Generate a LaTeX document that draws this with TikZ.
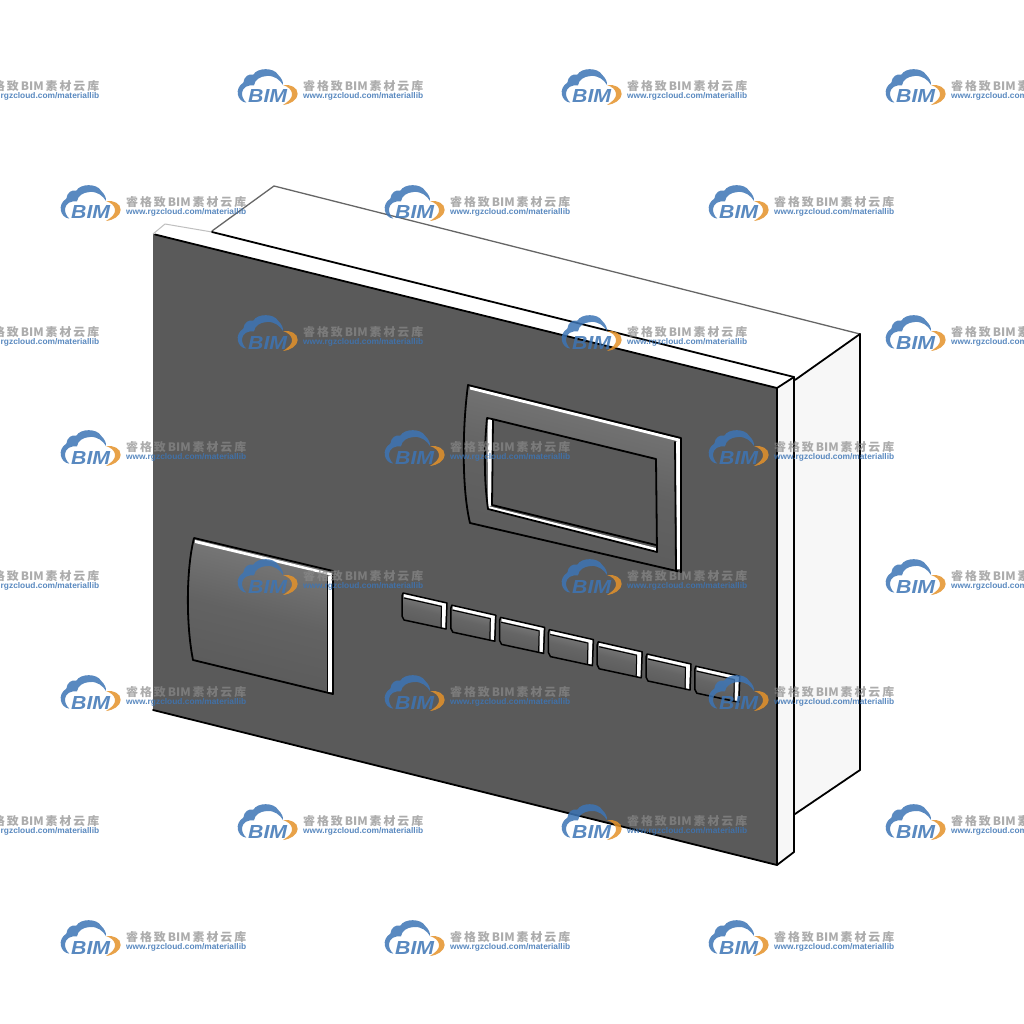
\documentclass[tikz,border=0pt]{standalone}
\usepackage{fontspec}
\newfontfamily\cjk{Noto Sans CJK SC}
\newfontfamily\lat{Liberation Sans}
\usetikzlibrary{calc}
\definecolor{plate}{HTML}{5A5A5A}
\definecolor{sidec}{HTML}{F7F7F7}
\definecolor{wmblue}{HTML}{3D75B5}
\definecolor{wmorange}{HTML}{E4922A}
\definecolor{wmgrey}{HTML}{8A8A8A}
\definecolor{faceA}{HTML}{7A7A7A}
\definecolor{faceB}{HTML}{7C7C7C}
\definecolor{faceC}{HTML}{868686}
\tikzset{
  edge/.style={draw=black,line width=1.8pt,line cap=round,line join=round},
  softedge/.style={draw=black!60,line width=1.3pt,line cap=round},
  bevel/.style={fill=white,draw=none},
  faceshade/.style={top color=#1,bottom color=plate,middle color=plate!75!#1,shading angle=-14},
  wmtext/.style={inner sep=0pt,anchor=west},
}
\newcommand{\wmark}[2]{%
\begin{scope}[shift={(#1,#2)}]
 \begin{scope}[x=.3333pt,y=-.3333pt,xshift=-2pt,opacity=.85]
  \fill[wmblue] (31,98)
     .. controls (3,95) and (-6,55) .. (22,38)
     .. controls (24,20) and (38,10) .. (52,14)
     .. controls (64,-8) and (114,-8) .. (126,14)
     .. controls (136,24) and (142,34) .. (141,45)
     .. controls (132,30) and (116,16) .. (92,18)
     .. controls (72,19) and (56,30) .. (54,46)
     .. controls (36,44) and (20,52) .. (18,68)
     .. controls (17,78) and (22,90) .. (31,98) -- cycle;
  \fill[wmorange] (141,45)
     .. controls (162,42) and (186,52) .. (185,72)
     .. controls (184,90) and (164,102) .. (141,105)
     .. controls (158,94) and (170,84) .. (168,70)
     .. controls (166,58) and (156,50) .. (141,45) -- cycle;
 \end{scope}
  \node[wmtext,text=wmblue,opacity=.85] at (10,26.5) {\resizebox{39pt}{13pt}{\lat\bfseries\itshape BIM}};
  \node[wmtext,text=wmgrey,opacity=.7] at (65,16) {\resizebox{120pt}{10pt}{\cjk\bfseries 睿\,格\,致\,BIM\,素\,材\,云\,库}};
  \node[wmtext,text=wmblue,opacity=.85] at (65,26) {\resizebox{120pt}{6pt}{\lat\bfseries www.rgzcloud.com/materiallib}};
\end{scope}}
\begin{document}
\begin{tikzpicture}[x=1pt,y=-1pt]
\fill[white] (0,0) rectangle (1024,1024);
\clip (0,0) rectangle (1024,1024);
% body
\fill[white] (165,223) -- (274,186) -- (860,334) -- (794,378) -- cycle;
\fill[sidec] (794,379) -- (860,334) -- (860,770) -- (794,814) -- cycle;
\fill[sidec] (777,388) -- (794,377) -- (794,852) -- (777,865) -- cycle;
\fill[plate] (153,234) -- (777,388) -- (777,865) -- (153,710) -- cycle;
\draw[softedge] (212,231) -- (274,186) -- (860,334);
\draw[edge] (860,334) -- (860,770) -- (795,814);
\draw[edge] (795,380) -- (860,334);
\draw[draw=black!25,line width=1pt] (165,224) -- (212,232);
\draw[draw=black!25,line width=1pt] (153,234) -- (165,224);
\draw[edge] (212,232) -- (794,377) -- (794,852) -- (777,865);
\draw[edge] (777,388) -- (794,377);
\draw[edge] (155,234.5) -- (777,388) -- (777,865) -- (153,710);
% screen
\path[faceshade=faceA] (468,385) -- (681,438) -- (681,571) -- (470,523) .. controls (462,490) and (462,430) .. (468,385) -- cycle;
\fill[plate] (487,418) -- (656,459) -- (657,552) -- (488,508) -- cycle;
\fill[bevel] (470,386.5) -- (681,439) -- (681,442) -- (470,389.5) -- cycle;
\fill[bevel] (675.5,442) -- (680.5,440) -- (680.5,569) -- (677,569) -- cycle;
\fill[bevel] (487.5,420) -- (492,418) -- (492,505) -- (488,507) -- cycle;
\fill[bevel] (488,506) -- (656,548) -- (656,552) -- (488,509.5) -- cycle;
\draw[edge] (681,438) -- (681,572) -- (470,523) .. controls (462,490) and (462,430) .. (468,385) -- (681,438);
\draw[edge] (675,442) -- (676,570);
\draw[edge] (487,418) .. controls (484,450) and (484,480) .. (488,509) -- (657,552) -- (656,459) -- (492,419) -- (487,418);
\draw[edge] (493,420) -- (492,505) -- (656,545);
% square
\path[faceshade=faceB] (194,538) -- (333,571) -- (333,693) -- (193,660) .. controls (186,625) and (186,570) .. (194,538) -- cycle;
\fill[bevel] (195,540) -- (333,573.5) -- (333,576) -- (195,543) -- cycle;
\fill[bevel] (328,576) -- (333,575) -- (333,692) -- (328,692) -- cycle;
\draw[edge] (194,538) -- (333,571) -- (333,694) -- (193,660) .. controls (186,625) and (186,570) .. (194,538);
\draw[edge] (327.5,576) -- (327.5,691);
% buttons
\foreach \i in {0,...,6} {
 \begin{scope}[shift={(48.8*\i,12.2*\i)}]
  \path[faceshade=faceC] (403,593) -- (447,603) -- (446,629) -- (402,620) -- cycle;
  \fill[bevel] (404,593.5) -- (446,603) -- (446,606.5) -- (404,597) -- cycle;
  \fill[bevel] (442,605) -- (446,604) -- (445.5,628) -- (442,628) -- cycle;
  \draw[edge,line width=1.5pt] (403,593) -- (447,603) -- (446,629) -- (404,620) -- (402,616) -- (402,596) -- cycle;
  \draw[edge,line width=1pt] (441.5,607) -- (441,627);
  \draw[edge,line width=1pt] (404,598) -- (441.5,606.5);
 \end{scope}
}
% watermarks
\foreach \y in {70,316,560,805} \foreach \x in {-86,238,562,886} {\wmark{\x}{\y}}
\foreach \y in {186,431,676,921} \foreach \x in {61,385,709} {\wmark{\x}{\y}}
\end{tikzpicture}
\end{document}
